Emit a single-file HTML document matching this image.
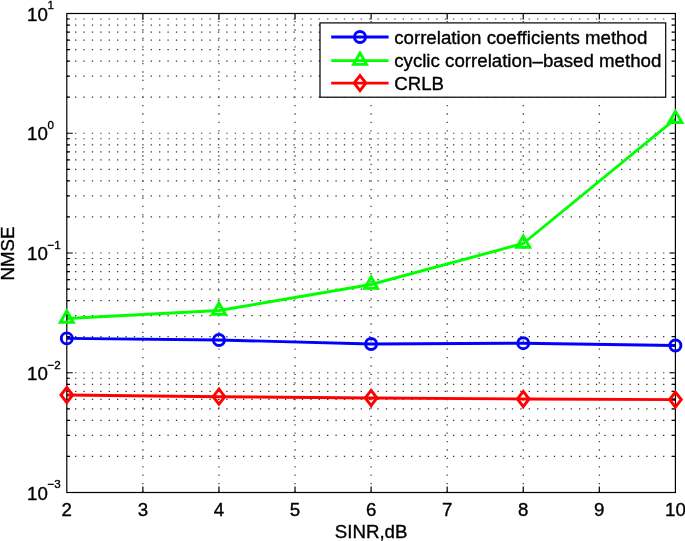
<!DOCTYPE html>
<html><head><meta charset="utf-8"><title>NMSE vs SINR</title>
<style>html,body{margin:0;padding:0;background:#fff}body{width:685px;height:541px;overflow:hidden}svg{display:block}text{font-family:"Liberation Sans",Arial,Helvetica,sans-serif;fill:#000;stroke:#000;stroke-width:0.35px}</style>
</head><body>
<svg width="685" height="541" viewBox="0 0 685 541">
<rect width="685" height="541" fill="#fff"/>
<g stroke="#333" stroke-width="1.2" stroke-dasharray="1.30 7.10" fill="none">
<path d="M66.80 456.45H675.40" stroke-dashoffset="0.15"/>
<path d="M66.80 435.36H675.40" stroke-dashoffset="0.15"/>
<path d="M66.80 420.40H675.40" stroke-dashoffset="0.15"/>
<path d="M66.80 408.80H675.40" stroke-dashoffset="0.15"/>
<path d="M66.80 399.32H675.40" stroke-dashoffset="0.15"/>
<path d="M66.80 391.30H675.40" stroke-dashoffset="0.15"/>
<path d="M66.80 384.35H675.40" stroke-dashoffset="0.15"/>
<path d="M66.80 378.23H675.40" stroke-dashoffset="0.15"/>
<path d="M66.80 372.75H675.40" stroke-dashoffset="0.15"/>
<path d="M66.80 336.70H675.40" stroke-dashoffset="0.15"/>
<path d="M66.80 315.61H675.40" stroke-dashoffset="0.15"/>
<path d="M66.80 300.65H675.40" stroke-dashoffset="0.15"/>
<path d="M66.80 289.05H675.40" stroke-dashoffset="0.15"/>
<path d="M66.80 279.57H675.40" stroke-dashoffset="0.15"/>
<path d="M66.80 271.55H675.40" stroke-dashoffset="0.15"/>
<path d="M66.80 264.60H675.40" stroke-dashoffset="0.15"/>
<path d="M66.80 258.48H675.40" stroke-dashoffset="0.15"/>
<path d="M66.80 253.00H675.40" stroke-dashoffset="0.15"/>
<path d="M66.80 216.95H675.40" stroke-dashoffset="0.15"/>
<path d="M66.80 195.86H675.40" stroke-dashoffset="0.15"/>
<path d="M66.80 180.90H675.40" stroke-dashoffset="0.15"/>
<path d="M66.80 169.30H675.40" stroke-dashoffset="0.15"/>
<path d="M66.80 159.82H675.40" stroke-dashoffset="0.15"/>
<path d="M66.80 151.80H675.40" stroke-dashoffset="0.15"/>
<path d="M66.80 144.85H675.40" stroke-dashoffset="0.15"/>
<path d="M66.80 138.73H675.40" stroke-dashoffset="0.15"/>
<path d="M66.80 133.25H675.40" stroke-dashoffset="0.15"/>
<path d="M66.80 97.20H675.40" stroke-dashoffset="0.15"/>
<path d="M66.80 76.11H675.40" stroke-dashoffset="0.15"/>
<path d="M66.80 61.15H675.40" stroke-dashoffset="0.15"/>
<path d="M66.80 49.55H675.40" stroke-dashoffset="0.15"/>
<path d="M66.80 40.07H675.40" stroke-dashoffset="0.15"/>
<path d="M66.80 32.05H675.40" stroke-dashoffset="0.15"/>
<path d="M66.80 25.10H675.40" stroke-dashoffset="0.15"/>
<path d="M66.80 18.98H675.40" stroke-dashoffset="0.15"/>
<path d="M142.88 13.50V492.50" stroke-dashoffset="0.95"/>
<path d="M218.95 13.50V492.50" stroke-dashoffset="0.95"/>
<path d="M295.03 13.50V492.50" stroke-dashoffset="0.95"/>
<path d="M371.10 13.50V492.50" stroke-dashoffset="0.95"/>
<path d="M447.18 13.50V492.50" stroke-dashoffset="0.95"/>
<path d="M523.25 13.50V492.50" stroke-dashoffset="0.95"/>
<path d="M599.32 13.50V492.50" stroke-dashoffset="0.95"/>
</g>
<polyline points="66.80,338.40 218.95,340.00 371.10,344.00 523.25,343.20 675.40,345.50" fill="none" stroke="#0000ff" stroke-width="2.9" stroke-linejoin="round"/>
<polyline points="66.80,318.50 218.95,310.50 371.10,284.50 523.25,243.50 675.40,118.80" fill="none" stroke="#00ff00" stroke-width="2.9" stroke-linejoin="round"/>
<polyline points="66.80,395.00 218.95,396.70 371.10,398.00 523.25,399.00 675.40,399.60" fill="none" stroke="#ff0000" stroke-width="2.9" stroke-linejoin="round"/>
<g stroke="#000" stroke-width="1.2" fill="none">
<rect x="66.80" y="13.50" width="608.60" height="479.00"/>
<path d="M142.88 492.50v-6M142.88 13.50v6M218.95 492.50v-6M218.95 13.50v6M295.03 492.50v-6M295.03 13.50v6M371.10 492.50v-6M371.10 13.50v6M447.18 492.50v-6M447.18 13.50v6M523.25 492.50v-6M523.25 13.50v6M599.32 492.50v-6M599.32 13.50v6M66.80 456.45h3.2M675.40 456.45h-3.2M66.80 435.36h3.2M675.40 435.36h-3.2M66.80 420.40h3.2M675.40 420.40h-3.2M66.80 408.80h3.2M675.40 408.80h-3.2M66.80 399.32h3.2M675.40 399.32h-3.2M66.80 391.30h3.2M675.40 391.30h-3.2M66.80 384.35h3.2M675.40 384.35h-3.2M66.80 378.23h3.2M675.40 378.23h-3.2M66.80 372.75h6.0M675.40 372.75h-6.0M66.80 336.70h3.2M675.40 336.70h-3.2M66.80 315.61h3.2M675.40 315.61h-3.2M66.80 300.65h3.2M675.40 300.65h-3.2M66.80 289.05h3.2M675.40 289.05h-3.2M66.80 279.57h3.2M675.40 279.57h-3.2M66.80 271.55h3.2M675.40 271.55h-3.2M66.80 264.60h3.2M675.40 264.60h-3.2M66.80 258.48h3.2M675.40 258.48h-3.2M66.80 253.00h6.0M675.40 253.00h-6.0M66.80 216.95h3.2M675.40 216.95h-3.2M66.80 195.86h3.2M675.40 195.86h-3.2M66.80 180.90h3.2M675.40 180.90h-3.2M66.80 169.30h3.2M675.40 169.30h-3.2M66.80 159.82h3.2M675.40 159.82h-3.2M66.80 151.80h3.2M675.40 151.80h-3.2M66.80 144.85h3.2M675.40 144.85h-3.2M66.80 138.73h3.2M675.40 138.73h-3.2M66.80 133.25h6.0M675.40 133.25h-6.0M66.80 97.20h3.2M675.40 97.20h-3.2M66.80 76.11h3.2M675.40 76.11h-3.2M66.80 61.15h3.2M675.40 61.15h-3.2M66.80 49.55h3.2M675.40 49.55h-3.2M66.80 40.07h3.2M675.40 40.07h-3.2M66.80 32.05h3.2M675.40 32.05h-3.2M66.80 25.10h3.2M675.40 25.10h-3.2M66.80 18.98h3.2M675.40 18.98h-3.2"/>
</g>
<circle cx="66.80" cy="338.40" r="5.5" fill="none" stroke="#0000ff" stroke-width="2.9"/>
<circle cx="218.95" cy="340.00" r="5.5" fill="none" stroke="#0000ff" stroke-width="2.9"/>
<circle cx="371.10" cy="344.00" r="5.5" fill="none" stroke="#0000ff" stroke-width="2.9"/>
<circle cx="523.25" cy="343.20" r="5.5" fill="none" stroke="#0000ff" stroke-width="2.9"/>
<circle cx="675.40" cy="345.50" r="5.5" fill="none" stroke="#0000ff" stroke-width="2.9"/>
<path d="M66.80 311.00L73.30 322.25L60.30 322.25Z" fill="none" stroke="#00ff00" stroke-width="2.9" stroke-linejoin="miter"/>
<path d="M218.95 303.00L225.45 314.25L212.45 314.25Z" fill="none" stroke="#00ff00" stroke-width="2.9" stroke-linejoin="miter"/>
<path d="M371.10 277.00L377.60 288.25L364.60 288.25Z" fill="none" stroke="#00ff00" stroke-width="2.9" stroke-linejoin="miter"/>
<path d="M523.25 236.00L529.75 247.25L516.75 247.25Z" fill="none" stroke="#00ff00" stroke-width="2.9" stroke-linejoin="miter"/>
<path d="M675.40 111.30L681.90 122.55L668.90 122.55Z" fill="none" stroke="#00ff00" stroke-width="2.9" stroke-linejoin="miter"/>
<path d="M66.80 387.45L72.65 395.00L66.80 402.55L60.95 395.00Z" fill="none" stroke="#ff0000" stroke-width="2.9" stroke-linejoin="miter"/>
<path d="M218.95 389.15L224.80 396.70L218.95 404.25L213.10 396.70Z" fill="none" stroke="#ff0000" stroke-width="2.9" stroke-linejoin="miter"/>
<path d="M371.10 390.45L376.95 398.00L371.10 405.55L365.25 398.00Z" fill="none" stroke="#ff0000" stroke-width="2.9" stroke-linejoin="miter"/>
<path d="M523.25 391.45L529.10 399.00L523.25 406.55L517.40 399.00Z" fill="none" stroke="#ff0000" stroke-width="2.9" stroke-linejoin="miter"/>
<path d="M675.40 392.05L681.25 399.60L675.40 407.15L669.55 399.60Z" fill="none" stroke="#ff0000" stroke-width="2.9" stroke-linejoin="miter"/>
<rect x="320.0" y="22.9" width="345.7" height="74.3" fill="#fff" stroke="#000" stroke-width="1.2"/>
<path d="M331.2 37.00H388.6" stroke="#0000ff" stroke-width="2.9"/>
<circle cx="360.00" cy="37.00" r="5.5" fill="none" stroke="#0000ff" stroke-width="2.9"/>
<text x="394.2" y="43.60" font-size="18.70">correlation coefficients method</text>
<path d="M331.2 60.60H388.6" stroke="#00ff00" stroke-width="2.9"/>
<path d="M360.00 53.10L366.50 64.35L353.50 64.35Z" fill="none" stroke="#00ff00" stroke-width="2.9" stroke-linejoin="miter"/>
<text x="394.2" y="67.20" font-size="18.70">cyclic correlation<tspan dx="0.1">–</tspan><tspan dx="0.1">based method</tspan></text>
<path d="M331.2 83.10H388.6" stroke="#ff0000" stroke-width="2.9"/>
<path d="M360.00 75.55L365.85 83.10L360.00 90.65L354.15 83.10Z" fill="none" stroke="#ff0000" stroke-width="2.9" stroke-linejoin="miter"/>
<text x="394.2" y="89.70" font-size="18.70">CRLB</text>
<text x="66.80" y="515.7" font-size="18.70" text-anchor="middle">2</text>
<text x="142.88" y="515.7" font-size="18.70" text-anchor="middle">3</text>
<text x="218.95" y="515.7" font-size="18.70" text-anchor="middle">4</text>
<text x="295.03" y="515.7" font-size="18.70" text-anchor="middle">5</text>
<text x="371.10" y="515.7" font-size="18.70" text-anchor="middle">6</text>
<text x="447.18" y="515.7" font-size="18.70" text-anchor="middle">7</text>
<text x="523.25" y="515.7" font-size="18.70" text-anchor="middle">8</text>
<text x="599.32" y="515.7" font-size="18.70" text-anchor="middle">9</text>
<text x="675.40" y="515.7" font-size="18.70" text-anchor="middle">10</text>
<text x="27.0" y="20.60" font-size="18.70">10</text>
<text x="47.6" y="9.30" font-size="11.6">1</text>
<text x="27.0" y="140.35" font-size="18.70">10</text>
<text x="47.6" y="129.05" font-size="11.6">0</text>
<text x="27.0" y="260.10" font-size="18.70">10</text>
<text x="47.6" y="248.80" font-size="11.6">−1</text>
<text x="27.0" y="379.85" font-size="18.70">10</text>
<text x="47.6" y="368.55" font-size="11.6">−2</text>
<text x="27.0" y="499.60" font-size="18.70">10</text>
<text x="47.6" y="488.30" font-size="11.6">−3</text>
<text x="371.10" y="537.5" font-size="18.70" text-anchor="middle">SINR,dB</text>
<text transform="translate(14.2 253.50) rotate(-90)" font-size="18.70" text-anchor="middle">NMSE</text>
</svg></body></html>
